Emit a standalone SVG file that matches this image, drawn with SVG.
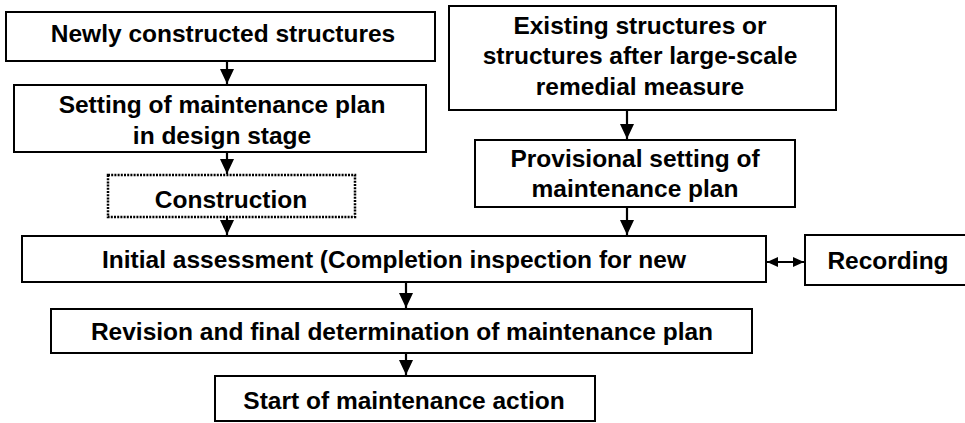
<svg xmlns="http://www.w3.org/2000/svg" width="965" height="423" viewBox="0 0 965 423">
<style>
.box{fill:#fff;stroke:#000;stroke-width:2}
.dot{fill:#fff;stroke:#000;stroke-width:2.5;stroke-dasharray:2 1.2}
text{font-family:"Liberation Sans",Arial,sans-serif;font-weight:bold;font-size:24.5px;fill:#000;text-anchor:middle}
.ln{stroke:#000;stroke-width:2.2;fill:none}
</style>
<defs>
<marker id="ah" markerWidth="16" markerHeight="16" refX="15" refY="8" orient="auto" markerUnits="userSpaceOnUse">
<path d="M0,1 L15,8 L0,15 Z" fill="#000"/>
</marker>
<marker id="ah2" markerWidth="12" markerHeight="12" refX="11" refY="6" orient="auto-start-reverse" markerUnits="userSpaceOnUse">
<path d="M0,1 L11,6 L0,11 Z" fill="#000"/>
</marker>
</defs>
<g id="connectors">
<line class="ln" x1="227" y1="61" x2="227" y2="84" marker-end="url(#ah)"/>
<line class="ln" x1="227" y1="152" x2="227" y2="174" marker-end="url(#ah)"/>
<line class="ln" x1="227" y1="217" x2="227" y2="235" marker-end="url(#ah)"/>
<line class="ln" x1="627" y1="110" x2="627" y2="139" marker-end="url(#ah)"/>
<line class="ln" x1="627" y1="207" x2="627" y2="235" marker-end="url(#ah)"/>
<line class="ln" x1="406" y1="282" x2="406" y2="308" marker-end="url(#ah)"/>
<line class="ln" x1="406" y1="353" x2="406" y2="375" marker-end="url(#ah)"/>
<line class="ln" x1="767" y1="262" x2="804" y2="262" marker-start="url(#ah2)" marker-end="url(#ah2)"/>
</g>
<g id="newly">
<rect class="box" x="6" y="12" width="429" height="49"/>
<text x="223" y="42">Newly constructed structures</text>
</g>
<g id="setting">
<rect class="box" x="14" y="85" width="412" height="67"/>
<text x="222" y="113">Setting of maintenance plan</text>
<text x="222" y="144">in design stage</text>
</g>
<g id="construction">
<rect class="dot" x="108" y="175" width="247" height="42"/>
<text x="231" y="208">Construction</text>
</g>
<g id="existing">
<rect class="box" x="449" y="6" width="387" height="104"/>
<text x="640" y="34">Existing structures or</text>
<text x="640" y="64">structures after large-scale</text>
<text x="640" y="95">remedial measure</text>
</g>
<g id="provisional">
<rect class="box" x="475" y="140" width="320" height="67"/>
<text x="635" y="167">Provisional setting of</text>
<text x="635" y="197">maintenance plan</text>
</g>
<g id="initial">
<rect class="box" x="22" y="236" width="744" height="46"/>
<text x="394" y="268">Initial assessment (Completion inspection for new</text>
</g>
<g id="recording">
<rect class="box" x="805" y="235" width="170" height="50"/>
<text x="888" y="269">Recording</text>
</g>
<g id="revision">
<rect class="box" x="51" y="309" width="701" height="44"/>
<text x="402" y="340">Revision and final determination of maintenance plan</text>
</g>
<g id="start">
<rect class="box" x="215" y="376" width="380" height="45"/>
<text x="404" y="409">Start of maintenance action</text>
</g>
</svg>
